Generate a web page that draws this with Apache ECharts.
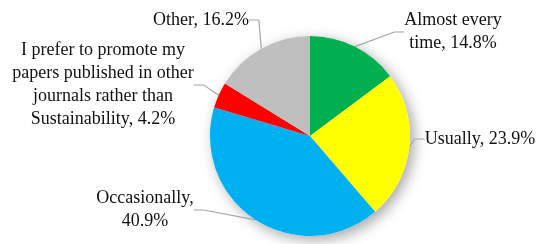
<!DOCTYPE html>
<html>
<head>
<meta charset="utf-8">
<script src="https://cdn.jsdelivr.net/npm/echarts@6/dist/echarts.min.js"></script>
<style>html,body{margin:0;padding:0;background:#fff;}#c{width:550px;height:244px;}</style>
</head>
<body>
<div id="c"></div>
<script>
const categories = ['Almost every\ntime', 'Usually', 'Occasionally', 'I prefer to promote my\npapers published in other\njournals rather than\nSustainability', 'Other'];
const separators = [', ', ', ', ',\n', ', ', ', '];
const values = [14.8, 23.9, 40.9, 4.2, 16.2];
const colors = ['#00b050', '#ffff00', '#00b0f0', '#ff0000', '#bfbfbf'];
const labelCenters = [[453, 32], [480, 139], [145, 210], [103, 85], [201, 20]];

const chart = echarts.init(document.getElementById('c'));
chart.setOption({
  animation: false,
  series: [
    {
      type: 'pie', silent: true, radius: 100, center: [310, 136],
      label: { show: false }, labelLine: { show: false },
      itemStyle: { color: '#ffffff', shadowBlur: 14, shadowOffsetX: 4, shadowOffsetY: 4, shadowColor: 'rgba(0,0,0,0.35)' },
      data: [{ value: 1 }], z: 1
    },
    {
      type: 'pie', radius: 100, center: [310, 136], startAngle: 90, clockwise: true,
      z: 2,
      label: {
        show: true, overflow: 'none', align: 'center',
        fontFamily: 'Liberation Serif', fontSize: 18, lineHeight: 23, color: '#111',
        formatter: p => (p.name + separators[p.dataIndex] + p.value.toFixed(1) + '%')
          .split('\n').map(s => '{t|' + s + '}').join('\n'),
        rich: { t: { fontFamily: 'Liberation Serif', fontSize: 18, lineHeight: 23, color: '#111', align: 'center' } }
      },
      labelLine: { show: true, length: 10, length2: 10, lineStyle: { color: '#a6a6a6', width: 1.2 } },
      labelLayout: p => ({ x: labelCenters[p.dataIndex][0], y: labelCenters[p.dataIndex][1], align: 'center', verticalAlign: 'middle' }),
      itemStyle: { borderWidth: 0 },
      data: values.map((v, i) => ({ name: categories[i], value: v, itemStyle: { color: colors[i] } }))
    }
  ]
});
</script>
</body>
</html>
